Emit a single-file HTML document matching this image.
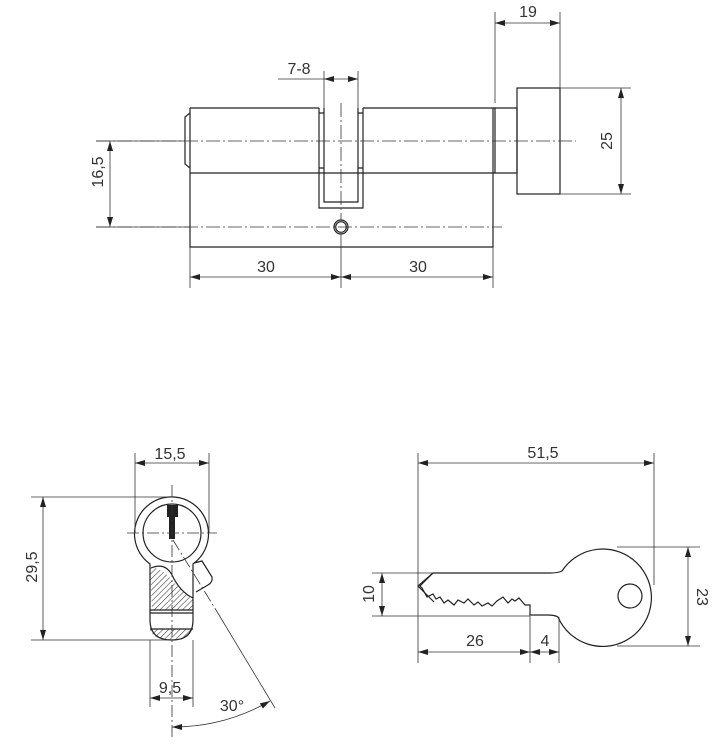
<!DOCTYPE html>
<html><head><meta charset="utf-8"><style>
html,body{margin:0;padding:0;background:#fff}
svg{display:block}
text{font-family:"Liberation Sans",sans-serif;font-size:16px;fill:#333}
</style></head><body>
<svg width="718" height="746" viewBox="0 0 718 746" xmlns="http://www.w3.org/2000/svg">
<defs>
<marker id="a" viewBox="0 0 10 6" refX="10" refY="3" markerWidth="10" markerHeight="6" markerUnits="userSpaceOnUse" orient="auto-start-reverse"><path d="M0,0L10,3L0,6z" fill="#222"/></marker>
<pattern id="h" width="4" height="4" patternUnits="userSpaceOnUse" patternTransform="rotate(45)"><rect width="4" height="4" fill="#fff"/><line x1="0" y1="0" x2="0" y2="4" stroke="#444" stroke-width="1.2"/></pattern>
</defs>
<g fill="none" stroke="#222" stroke-width="1.2">
<!-- TOP VIEW -->
<path d="M190,108H319"/>
<path d="M363,108H493V247H190V108"/>
<path d="M190,173H493"/>
<path d="M190,113L185,117V164L190,168"/>
<path d="M319,108V208H363V108M324,108V202H358V108"/>
<path d="M319,113H324M319,168H324M358,113H363M358,168H363"/>
<path d="M493,108H517V173H493M495,108V173"/>
<rect x="517" y="88" width="43" height="106"/>
<circle cx="341" cy="227" r="7"/><circle cx="341" cy="227" r="5.3"/>
</g>
<g fill="none" stroke="#333" stroke-width="0.8">
<path d="M96,141H576M96,227H502M341,103V220" stroke-dasharray="14,3,2,3"/>
<path d="M341,234V288M190,247V288M493,247V288"/>
<path d="M96,141H185M96,227H190" />
<path d="M560,88H631M560,194H631"/>
<path d="M495,12V103M560,12V88"/>
<path d="M324,71V108M358,71V108M278,79H324"/>
<line x1="110" y1="141" x2="110" y2="227" marker-start="url(#a)" marker-end="url(#a)"/>
<line x1="621" y1="88" x2="621" y2="194" marker-start="url(#a)" marker-end="url(#a)"/>
<line x1="495" y1="23" x2="560" y2="23" marker-start="url(#a)" marker-end="url(#a)"/>
<line x1="324" y1="79" x2="358" y2="79" marker-start="url(#a)" marker-end="url(#a)"/>
<line x1="190" y1="277" x2="341" y2="277" marker-start="url(#a)" marker-end="url(#a)"/>
<line x1="341" y1="277" x2="493" y2="277" marker-start="url(#a)" marker-end="url(#a)"/>
</g>
<text x="299" y="74" text-anchor="middle">7-8</text>
<text x="528" y="17" text-anchor="middle">19</text>
<text x="266" y="272" text-anchor="middle">30</text>
<text x="418" y="272" text-anchor="middle">30</text>
<text transform="translate(103,172) rotate(-90)" text-anchor="middle">16,5</text>
<text transform="translate(612,141) rotate(-90)" text-anchor="middle">25</text>

<!-- PROFILE -->
<path d="M150,568L152,610H193V600Q180,590 172,580Q160,566 150,568Z" fill="url(#h)" stroke="none"/>
<path d="M150,629Q152,640 172,640Q192,640 193,629Z" fill="url(#h)" stroke="none"/>
<g fill="none" stroke="#222" stroke-width="1.2">
<path d="M150,564A37,37 0 1 1 193,564V620Q193,640 172,640Q150,640 150,620Z"/>
<circle cx="172" cy="533" r="29"/>
<path d="M151,568Q165,562 172,575Q180,592 193,598"/>
<path d="M150,610H193M150,613H193M150,629H193"/>
<path d="M194,563L202,561L212,577Q213,582 208,585L196,592"/>
</g>
<path d="M167,505H178V517H175V539H169V517H167Z" fill="#222"/>
<g fill="none" stroke="#333" stroke-width="0.8">
<path d="M127,533H217M172,485V737M173,540L216,610" stroke-dasharray="12,3,2,3"/>
<path d="M216,610L275,708"/>
<path d="M135,453V533M209,453V533"/>
<path d="M31,497H172M31,640H172"/>
<path d="M150,640V707M193,640V707"/>
<line x1="135" y1="463" x2="209" y2="463" marker-start="url(#a)" marker-end="url(#a)"/>
<line x1="43" y1="497" x2="43" y2="640" marker-start="url(#a)" marker-end="url(#a)"/>
<line x1="150" y1="698" x2="193" y2="698" marker-start="url(#a)" marker-end="url(#a)"/>
<path d="M172,727A194,194 0 0 0 270,701" marker-start="url(#a)" marker-end="url(#a)"/>
</g>
<text x="170" y="459" text-anchor="middle">15,5</text>
<text x="170" y="693" text-anchor="middle">9,5</text>
<text x="232" y="711" text-anchor="middle">30°</text>
<text transform="translate(37,567) rotate(-90)" text-anchor="middle">29,5</text>

<!-- KEY -->
<g fill="none" stroke="#222" stroke-width="1.2">
<path d="M433,573H550Q558,573 562,571A48.7,48.7 0 1 1 558,617Q555,615 547,615H530V605L525,605L519,598L515,601L512,599L508,603L503,597L497,601L492,606L488,603L482,606L478,602L474,605L468,599L464,603L458,600L454,605L448,600L444,603L440,597L436,599L433,594L427,597L422,588L420,586Z"/>
<path d="M433,573L418,586L434,602"/>
<circle cx="630" cy="596" r="12"/>
</g>
<g fill="none" stroke="#333" stroke-width="0.8">
<path d="M418,453V663M654,453V585"/>
<path d="M372,573H433M372,616H530"/>
<path d="M617,547H700M617,646H700"/>
<path d="M530,616V663M559,617V663"/>
<line x1="418" y1="463" x2="654" y2="463" marker-start="url(#a)" marker-end="url(#a)"/>
<line x1="382" y1="573" x2="382" y2="616" marker-start="url(#a)" marker-end="url(#a)"/>
<line x1="688" y1="547" x2="688" y2="646" marker-start="url(#a)" marker-end="url(#a)"/>
<line x1="418" y1="652" x2="530" y2="652" marker-start="url(#a)" marker-end="url(#a)"/>
<line x1="530" y1="652" x2="559" y2="652" marker-start="url(#a)" marker-end="url(#a)"/>
</g>
<text x="543" y="458" text-anchor="middle">51,5</text>
<text x="475" y="646" text-anchor="middle">26</text>
<text x="545" y="646" text-anchor="middle">4</text>
<text transform="translate(374,594) rotate(-90)" text-anchor="middle">10</text>
<text transform="translate(697,597) rotate(90)" text-anchor="middle">23</text>
</svg>
</body></html>
